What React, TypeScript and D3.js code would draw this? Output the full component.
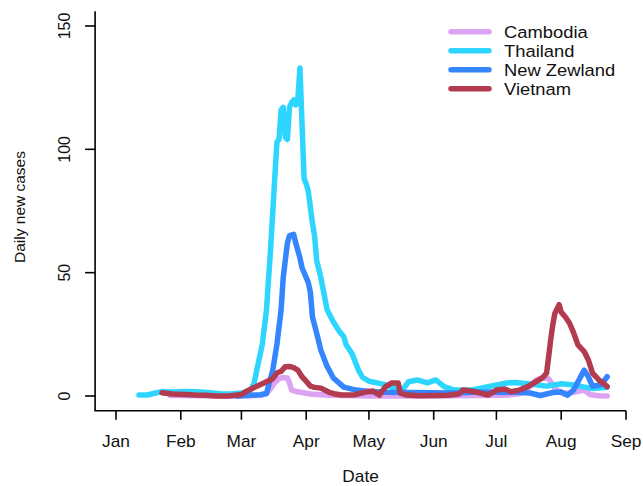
import React, { useEffect, useRef } from "react";
import * as d3 from "d3";

// daily new cases (smoothed)
const cambodia: [string, number][] = [
  ["2020-01-27", 0.2], ["2020-02-10", 0.1], ["2020-03-01", 0], ["2020-03-10", 0.3],
  ["2020-03-13", 1], ["2020-03-15", 3], ["2020-03-17", 5.5], ["2020-03-19", 7],
  ["2020-03-21", 7.5], ["2020-03-23", 7.3], ["2020-03-24", 5.3], ["2020-03-25", 2.4],
  ["2020-03-28", 1.7], ["2020-04-03", 0.8], ["2020-04-12", 0.3], ["2020-05-01", 0],
  ["2020-06-01", 0], ["2020-07-05", 0.3], ["2020-07-12", 1], ["2020-07-16", 3],
  ["2020-07-20", 6.5], ["2020-07-23", 7.5], ["2020-07-26", 7], ["2020-07-29", 3],
  ["2020-08-02", 1], ["2020-08-07", 1.5], ["2020-08-12", 2.4], ["2020-08-15", 0.5],
  ["2020-08-19", 0.1], ["2020-08-23", 0],
];

const thailand: [string, number][] = [
  ["2020-01-12", 0.4], ["2020-01-16", 0.4], ["2020-01-20", 1.2], ["2020-01-23", 1.8],
  ["2020-01-28", 1.6], ["2020-02-03", 1.8], ["2020-02-08", 1.7], ["2020-02-14", 1.4],
  ["2020-02-20", 0.9], ["2020-02-25", 0.8], ["2020-03-01", 1.2], ["2020-03-05", 2],
  ["2020-03-07", 5], ["2020-03-09", 13], ["2020-03-11", 21], ["2020-03-13", 35],
  ["2020-03-15", 60], ["2020-03-17", 89], ["2020-03-18", 103], ["2020-03-19", 104],
  ["2020-03-20", 116], ["2020-03-21", 117], ["2020-03-22", 105], ["2020-03-23", 104],
  ["2020-03-24", 117], ["2020-03-25", 119], ["2020-03-26", 120], ["2020-03-27", 118],
  ["2020-03-28", 120], ["2020-03-29", 133], ["2020-03-31", 88], ["2020-04-01", 86],
  ["2020-04-02", 83], ["2020-04-04", 70], ["2020-04-05", 65], ["2020-04-06", 55],
  ["2020-04-08", 48], ["2020-04-11", 35], ["2020-04-14", 30], ["2020-04-17", 26],
  ["2020-04-19", 24], ["2020-04-20", 21], ["2020-04-23", 17], ["2020-04-26", 10.5],
  ["2020-04-28", 7.5], ["2020-05-01", 6], ["2020-05-04", 5.5], ["2020-05-09", 4.5],
  ["2020-05-13", 3.2], ["2020-05-17", 2.4], ["2020-05-20", 5.8], ["2020-05-24", 6.5],
  ["2020-05-29", 5.3], ["2020-06-02", 6.5], ["2020-06-06", 3.8], ["2020-06-11", 2.4],
  ["2020-06-19", 2.4], ["2020-06-27", 3.8], ["2020-07-06", 5.3], ["2020-07-10", 5.5],
  ["2020-07-16", 5], ["2020-07-25", 4], ["2020-08-01", 5], ["2020-08-07", 4.5],
  ["2020-08-13", 3.5], ["2020-08-16", 3], ["2020-08-23", 3.5],
];

const newZealand: [string, number][] = [
  ["2020-02-28", 0], ["2020-03-05", 0.3], ["2020-03-10", 0.5], ["2020-03-13", 1],
  ["2020-03-16", 10.5], ["2020-03-18", 21], ["2020-03-20", 35], ["2020-03-21", 48],
  ["2020-03-23", 62], ["2020-03-24", 65], ["2020-03-26", 65.5], ["2020-03-27", 62],
  ["2020-03-29", 56], ["2020-03-30", 52], ["2020-04-01", 48], ["2020-04-02", 46],
  ["2020-04-03", 42], ["2020-04-04", 32], ["2020-04-06", 25.5], ["2020-04-08", 18.6],
  ["2020-04-11", 12], ["2020-04-14", 7.3], ["2020-04-19", 3.6], ["2020-04-25", 2.4],
  ["2020-05-01", 1.8], ["2020-05-10", 1.5], ["2020-05-20", 1.4], ["2020-06-01", 1.3],
  ["2020-06-10", 1.2], ["2020-06-20", 1.5], ["2020-07-01", 1.6], ["2020-07-10", 1.5],
  ["2020-07-17", 1.2], ["2020-07-22", 0.2], ["2020-07-28", 1.4], ["2020-08-01", 1.6],
  ["2020-08-04", 0.3], ["2020-08-07", 2.5], ["2020-08-12", 10.5], ["2020-08-14", 7.8],
  ["2020-08-16", 4], ["2020-08-20", 4.5], ["2020-08-23", 7.8],
];

const vietnam: [string, number][] = [
  ["2020-01-23", 1.3], ["2020-01-28", 0.8], ["2020-02-03", 0.6], ["2020-02-08", 0.4],
  ["2020-02-13", 0.3], ["2020-02-18", 0], ["2020-02-24", 0], ["2020-03-01", 0.6],
  ["2020-03-03", 1.7], ["2020-03-06", 3], ["2020-03-08", 3.8], ["2020-03-11", 5],
  ["2020-03-13", 5.8], ["2020-03-16", 7], ["2020-03-18", 9.3], ["2020-03-20", 10],
  ["2020-03-22", 11.9], ["2020-03-24", 12], ["2020-03-26", 11.5], ["2020-03-28", 10.5],
  ["2020-03-30", 7.8], ["2020-04-01", 6], ["2020-04-03", 4], ["2020-04-05", 3.5],
  ["2020-04-08", 3.2], ["2020-04-12", 1.5], ["2020-04-15", 0.8], ["2020-04-18", 0.4],
  ["2020-04-24", 0.5], ["2020-04-30", 1.7], ["2020-05-03", 2], ["2020-05-06", 0.4],
  ["2020-05-09", 3.8], ["2020-05-12", 5.3], ["2020-05-15", 5.3], ["2020-05-16", 1.2],
  ["2020-05-19", 0.4], ["2020-05-25", 0.1], ["2020-06-01", 0.2], ["2020-06-08", 0.3],
  ["2020-06-13", 0.8], ["2020-06-15", 2.4], ["2020-06-21", 1.7], ["2020-06-27", 0.4],
  ["2020-07-01", 2.4], ["2020-07-05", 2.8], ["2020-07-08", 1.7], ["2020-07-12", 2.4],
  ["2020-07-16", 3.8], ["2020-07-19", 5.3], ["2020-07-23", 7.3], ["2020-07-25", 9.3],
  ["2020-07-26", 16], ["2020-07-27", 23], ["2020-07-28", 29], ["2020-07-29", 33.6],
  ["2020-07-31", 37], ["2020-08-01", 34], ["2020-08-03", 32], ["2020-08-05", 29.5],
  ["2020-08-07", 25.5], ["2020-08-09", 20.7], ["2020-08-12", 18], ["2020-08-14", 14.6],
  ["2020-08-16", 9.3], ["2020-08-19", 6.5], ["2020-08-21", 5.3], ["2020-08-23", 3.8],
];

const countries = ["Cambodia", "Thailand", "New Zewland", "Vietnam"];
const colors = ["#dba3f2", "#2ed6ff", "#3585ff", "#b23b50"];
const seriesData = [cambodia, thailand, newZealand, vietnam];

const monthTicks = ["2020-01-01", "2020-02-01", "2020-03-01", "2020-04-01", "2020-05-01",
  "2020-06-01", "2020-07-01", "2020-08-01", "2020-09-01"];
const yTicks = [0, 50, 100, 150];

const W = 643;
const H = 486;

export default function App() {
  const svgRef = useRef<SVGSVGElement>(null);

  useEffect(() => {
    const svg = d3.select(svgRef.current);
    svg.selectAll("*").remove();

    const parse = d3.timeParse("%Y-%m-%d");
    const font = "Liberation Sans, Arial, sans-serif";
    const stretch = 1.08; // reference text is a bit wide

    // plot region: R style 4% padding on both axes
    const x = d3.scaleTime()
      .domain([parse("2020-01-01")!, parse("2020-09-01")!])
      .range([116, 626]);
    const y = d3.scaleLinear().domain([-6, 156]).range([410.8, 11.2]);
    const left = x(d3.timeDay.offset(parse("2020-01-01")!, -9.4) as Date) as number;
    const right = 626;
    const top = y(156);
    const bottom = y(-6);

    const line = d3.line<[string, number]>()
      .x((d) => x(parse(d[0])!))
      .y((d) => y(d[1]));

    const g = svg.append("g");
    seriesData.forEach((s, i) => {
      g.append("path")
        .datum(s)
        .attr("d", line)
        .attr("fill", "none")
        .attr("stroke", colors[i])
        .attr("stroke-width", 5.5)
        .attr("stroke-linejoin", "round")
        .attr("stroke-linecap", "round");
    });

    // L-shaped box
    svg.append("path")
      .attr("d", `M${left},${top}V${bottom}H${right}`)
      .attr("fill", "none")
      .attr("stroke", "#000")
      .attr("stroke-width", 1.6);

    const hText = (px: number, py: number, size: number, anchor: string, s: string) =>
      svg.append("text")
        .attr("transform", `translate(${px},${py}) scale(${stretch},1)`)
        .attr("text-anchor", anchor)
        .attr("font-family", font)
        .attr("font-size", size)
        .attr("fill", "#111")
        .text(s);

    // x axis ticks
    monthTicks.forEach((t) => {
      const px = x(parse(t)!);
      svg.append("line")
        .attr("x1", px).attr("x2", px)
        .attr("y1", bottom).attr("y2", bottom + 9)
        .attr("stroke", "#000").attr("stroke-width", 1.6);
      hText(px, 447, 16, "middle", d3.timeFormat("%b")(parse(t)!));
    });

    // y axis ticks
    yTicks.forEach((t) => {
      svg.append("line")
        .attr("x1", left - 10).attr("x2", left)
        .attr("y1", y(t)).attr("y2", y(t))
        .attr("stroke", "#000").attr("stroke-width", 1.6);
      svg.append("text")
        .attr("transform", `translate(70,${y(t)}) rotate(-90)`)
        .attr("text-anchor", "middle")
        .attr("font-family", font)
        .attr("font-size", 16)
        .attr("fill", "#111")
        .text(t);
    });

    hText((left + right) / 2, 482, 16, "middle", "Date");

    svg.append("text")
      .attr("transform", `translate(25,${(top + bottom) / 2 - 4}) rotate(-90)`)
      .attr("text-anchor", "middle")
      .attr("font-family", font)
      .attr("font-size", 15.5)
      .attr("fill", "#111")
      .text("Daily new cases");

    // legend
    countries.forEach((c, i) => {
      const ly = 31.7 + i * 19;
      svg.append("line")
        .attr("x1", 451).attr("x2", 489)
        .attr("y1", ly).attr("y2", ly)
        .attr("stroke", colors[i])
        .attr("stroke-width", 5.5)
        .attr("stroke-linecap", "round");
      hText(504, ly + 6, 17, "start", c);
    });
  }, []);

  return (
    <svg
      ref={svgRef}
      width={W}
      height={H}
      style={{ position: "absolute", left: 0, top: 0, background: "#fff" }}
    />
  );
}
